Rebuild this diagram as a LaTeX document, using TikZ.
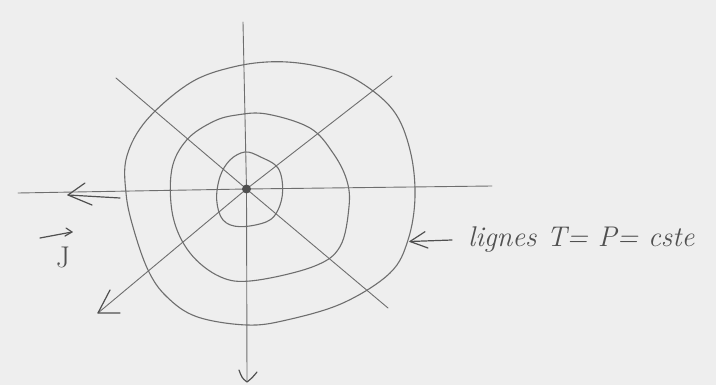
\documentclass[tikz,border=0pt]{standalone}
\usetikzlibrary{calc}
\definecolor{paper}{RGB}{238,238,238}
\definecolor{pencil}{RGB}{110,110,110}
\definecolor{pencilD}{RGB}{80,80,80}
\tikzset{
  axis/.style={draw=pencil, line width=0.9pt, line cap=round},
  contour/.style={draw=pencil, line width=1.1pt, line cap=round, line join=round},
  barb/.style={draw=pencilD, line width=1.2pt, line cap=round, line join=round},
  hand/.style={text=pencilD, font=\fontsize{28.5}{32}\selectfont\itshape, inner sep=0pt, anchor=base west}
}
\begin{document}
\begin{tikzpicture}[x=1pt,y=-1pt]
\fill[paper] (0,0) rectangle (716,385);
\useasboundingbox (0,0) rectangle (716,385);

\coordinate (C) at (246.5,189);
% axes
\coordinate (Vtop) at (243,22);
\coordinate (Vbot) at (247,382);
\coordinate (Hl) at (18,193);
\coordinate (Hr) at (492,186);
\coordinate (D1a) at (116,78);
\coordinate (D1b) at (388,308);
\coordinate (D2a) at (392,76);
\coordinate (D2b) at (98,313);
\draw[axis] (Vtop) -- (C) -- (Vbot);
\draw[axis] (Hl) -- (C) -- (Hr);
\draw[axis] (D1a) -- (C) -- (D1b);
\draw[axis] (D2a) -- (C) -- (D2b);

% contours
\draw[contour] plot[smooth cycle, tension=0.6] coordinates {
 (276.7,61.7) (320,66.7) (356.7,80) (393,110) (410,150) (415,196.7) (408,240)
 (390,273) (343,303) (286.7,320) (246.7,325) (196.7,316.7) (166.7,296.7)
 (148,270) (133,227) (126,193) (126.7,156.7) (146.7,120) (190,83) (233,67)};
\draw[contour] plot[smooth cycle, tension=0.6] coordinates {
 (236.7,115) (266.7,114) (310,128) (333,153) (346.7,180) (349,206.7)
 (340,246.7) (313,266.7) (253,280.7) (220,276.7) (190,253) (173,216.7)
 (171.7,170) (186.7,140) (213,121.7)};
\draw[contour] plot[smooth cycle, tension=0.6] coordinates {
 (245,152) (260,156.7) (278,168) (282.7,190) (278,210) (266.7,221.7)
 (240,226.7) (223,220) (216.7,200) (220,176.7) (230,160)};

% center dot
\fill[pencilD] (C) circle (4.5);

% arrowheads
\coordinate (Lt) at (68,195);
\draw[barb] (120,198) -- (Lt);
\draw[barb] (85,183) -- (Lt) -- (92,205);
\draw[barb] (110,290) -- (D2b) -- (120,313);
\draw[barb] (239,370) .. controls (242,378) .. (Vbot) .. controls (252,378) .. (257,372);

% J vector
\draw[barb] (40,238) -- (72,232);
\draw[barb] (66,228) -- (72,232) -- (65,236);
\node[text=pencilD, font=\fontsize{30}{34}\selectfont, anchor=base] (J) at (63,268) {J};

% label
\coordinate (Lab) at (410,241.5);
\draw[barb] (452,240) -- (Lab);
\draw[barb] (425,231.7) -- (Lab) -- (428,248);
\node[hand] (txt) at (468,247) {lignes\ T= P= cste};
\end{tikzpicture}
\end{document}
